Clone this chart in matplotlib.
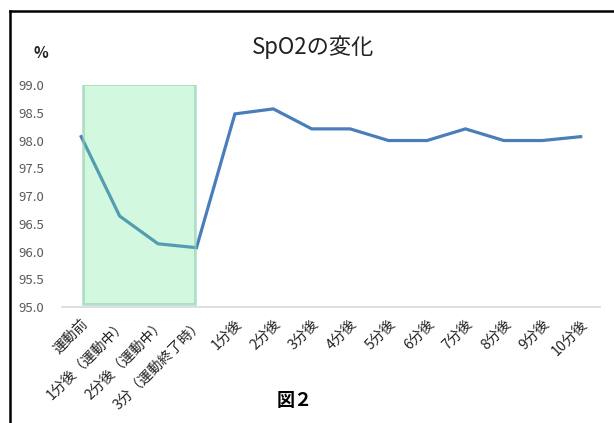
import matplotlib.pyplot as plt
from matplotlib.patches import Rectangle
from matplotlib.lines import Line2D

plt.rcParams['font.family'] = ['Noto Sans CJK JP', 'DejaVu Sans']

# SpO2 の推移
labels = ['運動前', '1分後（運動中）', '2分後（運動中）', '3分（運動終了時）',
          '1分後', '2分後', '3分後', '4分後', '5分後', '6分後',
          '7分後', '8分後', '9分後', '10分後']
spo2 = [98.07, 96.64, 96.14, 96.07, 98.48, 98.57, 98.21, 98.21,
        98.0, 98.0, 98.21, 98.0, 98.0, 98.07]
yticks = [95.0, 95.5, 96.0, 96.5, 97.0, 97.5, 98.0, 98.5, 99.0]

fig = plt.figure(figsize=(6.14, 4.23), dpi=100)
ax = fig.add_axes([0.101, 0.274, 0.876, 0.525])

x = list(range(len(labels)))
ax.plot(x, spo2, color='#4a7ebb', linewidth=2.3, solid_joinstyle='miter', zorder=2)

# 運動中の区間
ax.add_patch(Rectangle((0.05, 95.05), 2.9, 3.97, facecolor=(0.42, 0.91, 0.6, 0.3),
                       edgecolor=(0.55, 0.8, 0.68, 0.6), linewidth=2, zorder=3))

ax.set_xlim(-0.5, 13.5)
ax.set_ylim(95, 99)
ax.set_yticks(yticks)
ax.set_yticklabels([f'{v:.1f}' for v in yticks], fontsize=9.5, color='#595959')
ax.set_xticks(x)
ax.set_xticklabels(labels, rotation=45, ha='right', rotation_mode='anchor',
                   fontsize=10.2, color='#222222')
ax.tick_params(axis='both', length=0)
ax.tick_params(axis='y', pad=13)
ax.tick_params(axis='x', pad=7)
for s in ['top', 'right', 'left']:
    ax.spines[s].set_visible(False)
ax.spines['bottom'].set_color('#d9d9d9')
ax.spines['bottom'].set_linewidth(1.2)

fig.text(0.51, 0.888, 'SpO2の変化', fontsize=16, ha='center', va='center', color='#222222')
fig.text(0.066, 0.875, '%', fontsize=11, fontweight='bold', ha='center', va='center',
         color='#222222')
fig.text(0.48, 0.053, '図２', fontsize=13, fontweight='bold', ha='center', va='center')

# 外枠
fig.add_artist(Line2D([0.017, 0.017], [0.0, 0.974], color='black', linewidth=1.8,
                      transform=fig.transFigure))
fig.add_artist(Line2D([0.017, 1.0], [0.974, 0.974], color='black', linewidth=1.8,
                      transform=fig.transFigure))

fig.savefig('out.png', dpi=100)
